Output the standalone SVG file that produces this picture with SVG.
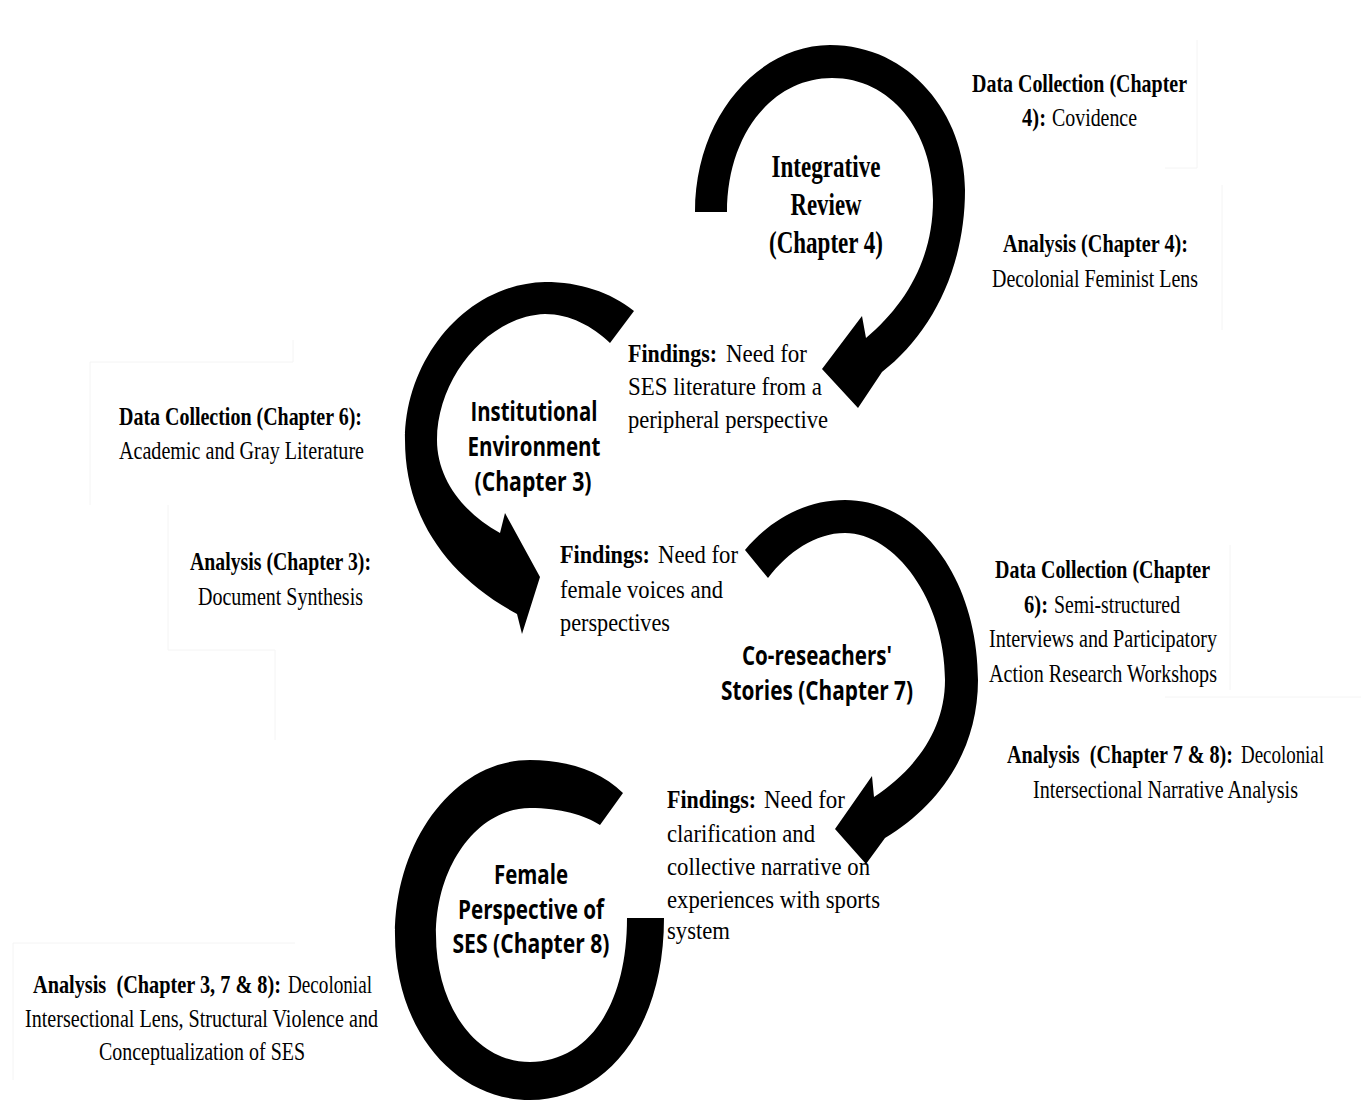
<svg xmlns="http://www.w3.org/2000/svg" width="1361" height="1105" viewBox="0 0 1361 1105">
  <style>
    .arc { fill: #000; stroke: none; }
    .frame { fill: none; stroke: #f4f4f4; stroke-width: 1; }
    .serif { font-family: "Liberation Serif", "Times New Roman", serif; font-size: 26px; fill: #000; }
    .b { font-weight: 700; }
    .title { font-family: "Liberation Serif", "Times New Roman", serif; font-size: 32px; font-weight: 700; fill: #000; }
    .sans { font-family: "Open Sans", "Liberation Sans", sans-serif; font-size: 26px; font-weight: 700; fill: #000; }
  </style>
  <rect width="1361" height="1105" fill="#fff"/>

  <!-- faint outlines of the text boxes -->
  <g id="frames" class="frame">
    <path d="M90,505 V362 H293 V340"/>
    <path d="M168,505 V650 H275 V740"/>
    <path d="M1197,40 V168 H1165"/>
    <path d="M1222,185 V330"/>
    <path d="M1230,545 V690"/>
    <path d="M1165,697 H1361"/>
    <path d="M13,1080 V943 H295"/>
  </g>

  <!-- method / findings annotations -->
  <g id="annotations">
    <g id="ir-data">
      <text class="serif b" x="972" y="92" textLength="215" lengthAdjust="spacingAndGlyphs">Data Collection (Chapter</text>
      <text class="serif b" x="1022" y="126" textLength="24" lengthAdjust="spacingAndGlyphs">4):</text>
      <text class="serif" x="1052" y="126" textLength="85" lengthAdjust="spacingAndGlyphs">Covidence</text>
    </g>
    <g id="ir-analysis">
      <text class="serif b" x="1003" y="252" textLength="185" lengthAdjust="spacingAndGlyphs">Analysis (Chapter 4):</text>
      <text class="serif" x="992" y="287" textLength="206" lengthAdjust="spacingAndGlyphs">Decolonial Feminist Lens</text>
    </g>
    <g id="ir-findings">
      <text class="serif b" x="628" y="362" textLength="89" lengthAdjust="spacingAndGlyphs">Findings:</text>
      <text class="serif" x="726" y="362" textLength="81" lengthAdjust="spacingAndGlyphs">Need for</text>
      <text class="serif" x="628" y="395" textLength="194" lengthAdjust="spacingAndGlyphs">SES literature from a</text>
      <text class="serif" x="628" y="428" textLength="200" lengthAdjust="spacingAndGlyphs">peripheral perspective</text>
    </g>
    <g id="ie-data">
      <text class="serif b" x="119" y="425" textLength="243" lengthAdjust="spacingAndGlyphs">Data Collection (Chapter 6):</text>
      <text class="serif" x="119" y="459" textLength="245" lengthAdjust="spacingAndGlyphs">Academic and Gray Literature</text>
    </g>
    <g id="ie-analysis">
      <text class="serif b" x="190" y="570" textLength="181" lengthAdjust="spacingAndGlyphs">Analysis (Chapter 3):</text>
      <text class="serif" x="198" y="605" textLength="165" lengthAdjust="spacingAndGlyphs">Document Synthesis</text>
    </g>
    <g id="ie-findings">
      <text class="serif b" x="560" y="563" textLength="90" lengthAdjust="spacingAndGlyphs">Findings:</text>
      <text class="serif" x="658" y="563" textLength="80" lengthAdjust="spacingAndGlyphs">Need for</text>
      <text class="serif" x="560" y="598" textLength="163" lengthAdjust="spacingAndGlyphs">female voices and</text>
      <text class="serif" x="560" y="631" textLength="110" lengthAdjust="spacingAndGlyphs">perspectives</text>
    </g>
    <g id="cr-data">
      <text class="serif b" x="995" y="578" textLength="215" lengthAdjust="spacingAndGlyphs">Data Collection (Chapter</text>
      <text class="serif b" x="1024" y="613" textLength="24" lengthAdjust="spacingAndGlyphs">6):</text>
      <text class="serif" x="1054" y="613" textLength="126" lengthAdjust="spacingAndGlyphs">Semi-structured</text>
      <text class="serif" x="989" y="647" textLength="228" lengthAdjust="spacingAndGlyphs">Interviews and Participatory</text>
      <text class="serif" x="989" y="682" textLength="228" lengthAdjust="spacingAndGlyphs">Action Research Workshops</text>
    </g>
    <g id="cr-analysis">
      <text class="serif b" x="1007" y="763" textLength="226" lengthAdjust="spacingAndGlyphs" xml:space="preserve">Analysis  (Chapter 7 &amp; 8):</text>
      <text class="serif" x="1241" y="763" textLength="83" lengthAdjust="spacingAndGlyphs">Decolonial</text>
      <text class="serif" x="1033" y="798" textLength="265" lengthAdjust="spacingAndGlyphs">Intersectional Narrative Analysis</text>
    </g>
    <g id="cr-findings">
      <text class="serif b" x="667" y="808" textLength="89" lengthAdjust="spacingAndGlyphs">Findings:</text>
      <text class="serif" x="764" y="808" textLength="81" lengthAdjust="spacingAndGlyphs">Need for</text>
      <text class="serif" x="667" y="842" textLength="148" lengthAdjust="spacingAndGlyphs">clarification and</text>
      <text class="serif" x="667" y="875" textLength="203" lengthAdjust="spacingAndGlyphs">collective narrative on</text>
      <text class="serif" x="667" y="908" textLength="213" lengthAdjust="spacingAndGlyphs">experiences with sports</text>
      <text class="serif" x="667" y="939" textLength="63" lengthAdjust="spacingAndGlyphs">system</text>
    </g>
    <g id="fp-analysis">
      <text class="serif b" x="33" y="993" textLength="248" lengthAdjust="spacingAndGlyphs" xml:space="preserve">Analysis  (Chapter 3, 7 &amp; 8):</text>
      <text class="serif" x="288" y="993" textLength="84" lengthAdjust="spacingAndGlyphs">Decolonial</text>
      <text class="serif" x="25" y="1027" textLength="353" lengthAdjust="spacingAndGlyphs">Intersectional Lens, Structural Violence and</text>
      <text class="serif" x="99" y="1060" textLength="206" lengthAdjust="spacingAndGlyphs">Conceptualization of SES</text>
    </g>
  </g>

  <!-- curved block arrows leading from one stage to the next -->
  <g id="connectors">
    <path id="arc-integrative" class="arc" d="M695,212 C695,115 760,45 830,45 C910,45 965,115 965,190 C965,270 930,335 882,372 L858,408 L822,369 L862,316 L866,338 C905,305 933,260 933,200 C933,130 890,78 832,78 C772,78 727,135 727,212 Z"/>
    <path id="arc-institutional" class="arc" d="M634,311 C610,292 580,282 545,282 C465,284 405,360 405,440 C405,515 445,575 517,614 L522,634 L540,577 L505,513 L500,533 C462,512 437,478 437,440 C437,378 488,316 545,314 C570,314 592,326 610,343 Z"/>
    <path id="arc-coresearchers" class="arc" d="M745,550 C770,520 805,500 845,500 C920,500 978,580 978,680 C978,750 940,805 885,838 L866,864 L835,829 L872,776 L874,797 C915,770 945,730 945,680 C945,600 895,533 845,533 C815,533 788,552 768,578 Z"/>
    <path id="arc-female" class="arc" d="M623,793 C600,770 565,760 530,760 C455,760 395,840 395,935 C395,1030 455,1100 530,1100 C605,1100 664,1030 664,918 L627,918 C627,1010 585,1062 530,1062 C475,1062 436,1005 436,935 C436,865 478,808 530,808 C560,808 585,815 600,825 Z"/>
  </g>

  <!-- stage nodes -->
  <g id="node-integrative">
    <text class="title" x="826" y="177" text-anchor="middle" textLength="109" lengthAdjust="spacingAndGlyphs">Integrative</text>
    <text class="title" x="826" y="215" text-anchor="middle" textLength="71" lengthAdjust="spacingAndGlyphs">Review</text>
    <text class="title" x="826" y="253" text-anchor="middle" textLength="114" lengthAdjust="spacingAndGlyphs">(Chapter 4)</text>
  </g>
  <g id="node-institutional">
    <text class="sans" x="534" y="421" text-anchor="middle" textLength="127" lengthAdjust="spacingAndGlyphs">Institutional</text>
    <text class="sans" x="534" y="456" text-anchor="middle" textLength="133" lengthAdjust="spacingAndGlyphs">Environment</text>
    <text class="sans" x="533" y="491" text-anchor="middle" textLength="117" lengthAdjust="spacingAndGlyphs">(Chapter 3)</text>
  </g>
  <g id="node-coresearchers">
    <text class="sans" x="817" y="665" text-anchor="middle" textLength="150" lengthAdjust="spacingAndGlyphs">Co-reseachers'</text>
    <text class="sans" x="817" y="700" text-anchor="middle" textLength="192" lengthAdjust="spacingAndGlyphs">Stories (Chapter 7)</text>
  </g>
  <g id="node-female">
    <text class="sans" x="531" y="884" text-anchor="middle" textLength="74" lengthAdjust="spacingAndGlyphs">Female</text>
    <text class="sans" x="531" y="919" text-anchor="middle" textLength="146" lengthAdjust="spacingAndGlyphs">Perspective of</text>
    <text class="sans" x="531" y="953" text-anchor="middle" textLength="157" lengthAdjust="spacingAndGlyphs">SES (Chapter 8)</text>
  </g>
</svg>
